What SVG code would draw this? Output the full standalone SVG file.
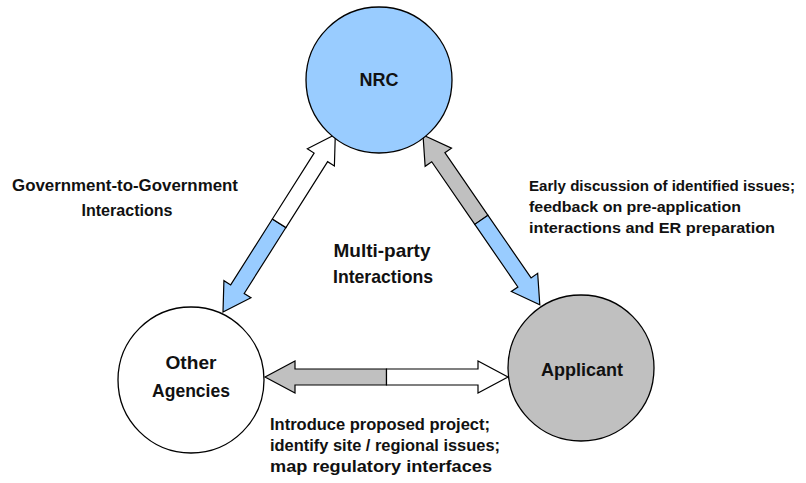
<svg xmlns="http://www.w3.org/2000/svg" width="806" height="483" viewBox="0 0 806 483">
<style>
  .lbl { font-family: "Liberation Sans", Arial, sans-serif; font-weight: bold; fill: #111; }
  .node { stroke: #000; stroke-width: 1.3; }
  .arr { stroke: #000; stroke-width: 1.2; stroke-linejoin: miter; }
  .blue { fill: #99CCFF; }
  .gray { fill: #C0C0C0; }
  .white { fill: #FFFFFF; }
</style>
<rect width="806" height="483" fill="#FFFFFF"/>
<g id="connectors">
  <g id="arrow-agencies-nrc" transform="translate(223,312) rotate(-57.67)">
    <path class="arr blue" d="M0,0 L27,-16 L27,-8 L105,-8 L105,8 L27,8 L27,16 Z"/>
    <path class="arr white" d="M105,-8 L183,-8 L183,-16 L210,0 L183,16 L183,8 L105,8 Z"/>
  </g>
  <g id="arrow-nrc-applicant" transform="translate(423,135) rotate(55.46)">
    <path class="arr gray" d="M0,0 L27,-16 L27,-8 L103,-8 L103,8 L27,8 L27,16 Z"/>
    <path class="arr blue" d="M103,-8 L179,-8 L179,-16 L206,0 L179,16 L179,8 L103,8 Z"/>
  </g>
  <g id="arrow-agencies-applicant" transform="translate(265,377)">
    <path class="arr gray" d="M0,0 L30,-16 L30,-8 L121.5,-8 L121.5,8 L30,8 L30,16 Z"/>
    <path class="arr white" d="M121.5,-8 L213,-8 L213,-16 L243,0 L213,16 L213,8 L121.5,8 Z"/>
  </g>
</g>
<g id="nrc">
  <circle class="node blue" cx="379" cy="80" r="73"/>
  <text class="lbl" x="379" y="86" font-size="18" text-anchor="middle">NRC</text>
</g>
<g id="other-agencies">
  <circle class="node white" cx="191" cy="380" r="73"/>
  <text class="lbl" x="191" y="369" font-size="18" text-anchor="middle" textLength="51" lengthAdjust="spacingAndGlyphs">Other</text>
  <text class="lbl" x="191" y="397" font-size="18" text-anchor="middle" textLength="78" lengthAdjust="spacingAndGlyphs">Agencies</text>
</g>
<g id="applicant">
  <circle class="node gray" cx="581" cy="368" r="73"/>
  <text class="lbl" x="582" y="376" font-size="18" text-anchor="middle" textLength="82" lengthAdjust="spacingAndGlyphs">Applicant</text>
</g>
<g id="labels">
  <text class="lbl" x="125" y="191" font-size="16" text-anchor="middle" textLength="226" lengthAdjust="spacingAndGlyphs">Government-to-Government</text>
  <text class="lbl" x="127" y="216" font-size="16" text-anchor="middle" textLength="91" lengthAdjust="spacingAndGlyphs">Interactions</text>
  <text class="lbl" x="382" y="257" font-size="18.5" text-anchor="middle" textLength="97" lengthAdjust="spacingAndGlyphs">Multi-party</text>
  <text class="lbl" x="383" y="283" font-size="18.5" text-anchor="middle" textLength="100" lengthAdjust="spacingAndGlyphs">Interactions</text>
  <text class="lbl" x="529" y="191" font-size="15.3" textLength="266" lengthAdjust="spacingAndGlyphs">Early discussion of identified issues;</text>
  <text class="lbl" x="529" y="212" font-size="15.3" textLength="212" lengthAdjust="spacingAndGlyphs">feedback on pre-application</text>
  <text class="lbl" x="529" y="233" font-size="15.3" textLength="246" lengthAdjust="spacingAndGlyphs">interactions and ER preparation</text>
  <text class="lbl" x="270" y="430" font-size="16" textLength="220" lengthAdjust="spacingAndGlyphs">Introduce proposed project;</text>
  <text class="lbl" x="270" y="451" font-size="16" textLength="230" lengthAdjust="spacingAndGlyphs">identify site / regional issues;</text>
  <text class="lbl" x="270" y="472" font-size="16" textLength="222" lengthAdjust="spacingAndGlyphs">map regulatory interfaces</text>
</g>
</svg>
